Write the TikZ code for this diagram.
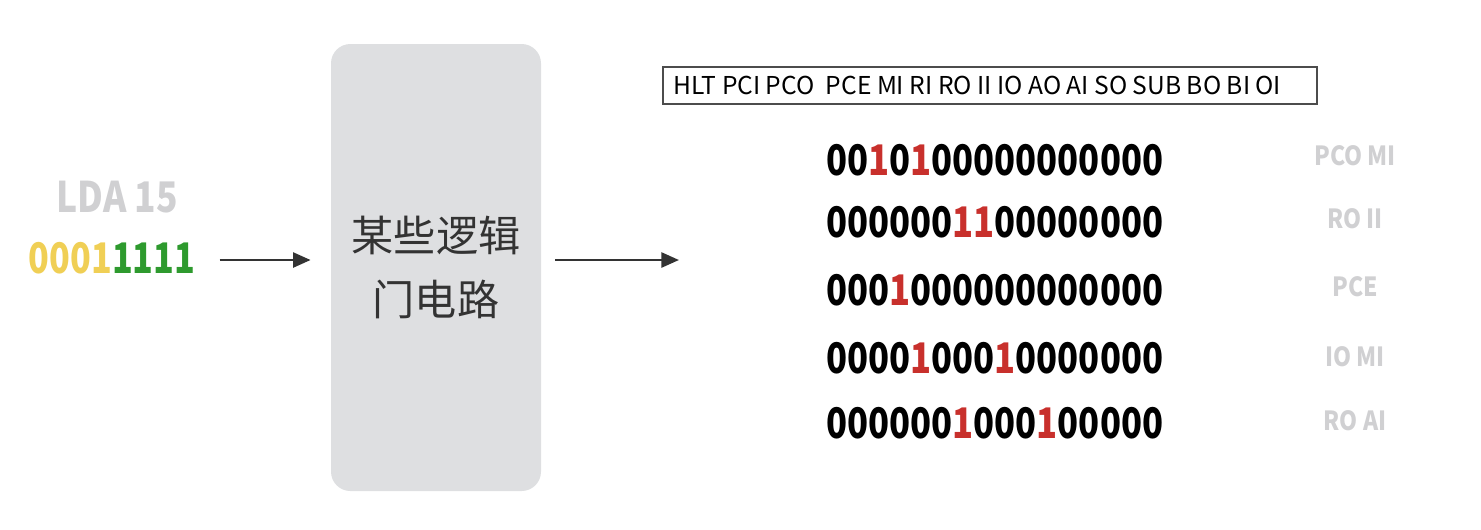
\documentclass[tikz,border=0pt]{standalone}
\usepackage{fontspec}
\setmainfont{Noto Sans CJK SC}
\usetikzlibrary{arrows.meta, positioning}
\definecolor{gatefill}{HTML}{DEDFE1}
\definecolor{fadegray}{HTML}{D0D0D2}
\definecolor{opyellow}{HTML}{F0CF55}
\definecolor{opgreen}{HTML}{2E9A2E}
\definecolor{bitred}{HTML}{C8302C}
\definecolor{arrowgray}{HTML}{333333}
\newcommand{\hb}[1]{\textcolor{bitred}{#1}}
\tikzset{
  bitrow/.style={anchor=west, inner sep=0pt, xscale=0.82, transform shape, font=\fontsize{24}{28}\selectfont\bfseries},
  ctrl/.style={text=fadegray, inner sep=0pt, xscale=0.87, transform shape, font=\fontsize{15}{18}\selectfont\bfseries},
  arr/.style={-{Triangle[length=10pt, width=8.5pt]}, line width=1.5pt, draw=arrowgray},
}
\begin{document}
\begin{tikzpicture}[x=0.02cm, y=-0.02cm]
			\useasboundingbox (0,0) rectangle (1481,529);

			% Draw the instruction
			\node[text=fadegray, inner sep=0pt, xscale=0.84, transform shape,
				font=\fontsize{24}{28}\selectfont\bfseries] (instr) at (117,197) {LDA 15};
			\node[inner sep=0pt, xscale=0.81, transform shape, font=\fontsize{24}{28}\selectfont\bfseries]
				(inbits) at (112,258) {\textcolor{opyellow}{0001}\textcolor{opgreen}{1111}};

			% Draw the box
			\node[fill=gatefill, rounded corners=11pt, minimum width=210*0.02cm, minimum height=447*0.02cm,
				align=center, text=black!80, font=\fontsize{24}{36}\selectfont] (gate) at (436,267.5)
				{某些逻辑\\门电路};

			% Draw the arrows
			\coordinate (outpt) at (679,260);
			\draw[arr, shorten <=13.7pt, shorten >=11.4pt] (inbits.east |- 0,260) -- (gate.west |- 0,260);
			\draw[arr, shorten <=8pt] (gate.east |- outpt) -- (outpt);

			% Draw the control word header
			\node[draw=black!70, line width=0.6pt, minimum width=654*0.02cm, minimum height=37*0.02cm,
				inner sep=0pt, font=\fontsize{14}{16}\selectfont] (header) at (990,85.5)
				{\hspace*{-0.5cm}HLT PCI PCO\ \ PCE MI RI RO II IO AO AI SO SUB BO BI OI};

			% Draw the control words
			\node[bitrow] (row1) at (826,160) {00\hb{1}0\hb{1}00000000000};
			\node[bitrow] (row2) at (826,222) {000000\hb{11}00000000};
			\node[bitrow] (row3) at (826,290) {000\hb{1}000000000000};
			\node[bitrow] (row4) at (826,358) {0000\hb{1}000\hb{1}0000000};
			\node[bitrow] (row5) at (826,423) {000000\hb{1}000\hb{1}00000};

			% Draw the signal names
			\node[ctrl] (sig1) at (1355,156) {PCO MI};
			\node[ctrl] (sig2) at (1355,219) {RO II};
			\node[ctrl] (sig3) at (1355,287) {PCE};
			\node[ctrl] (sig4) at (1355,357) {IO MI};
			\node[ctrl] (sig5) at (1355,421) {RO AI};
\end{tikzpicture}
\end{document}
